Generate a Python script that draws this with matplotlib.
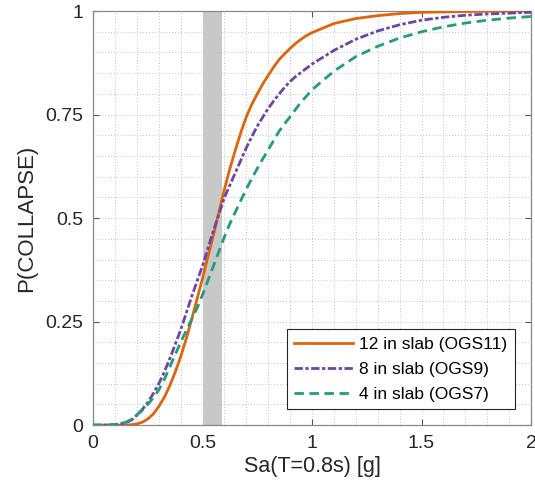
import numpy as np
import matplotlib
matplotlib.use('Agg')
import matplotlib.pyplot as plt
from matplotlib.ticker import MultipleLocator

plt.rcParams['font.family'] = ['Liberation Sans', 'DejaVu Sans']

sa = [0.0, 0.05, 0.1,
      0.15, 0.175, 0.2, 0.225, 0.25, 0.275, 0.3, 0.325, 0.35, 0.375,
      0.4, 0.425, 0.45, 0.475, 0.5, 0.525, 0.55, 0.575, 0.6, 0.625,
      0.65, 0.675, 0.7, 0.725, 0.75, 0.775, 0.8, 0.825, 0.85, 0.875,
      0.9, 0.925, 0.95, 0.975, 1.0,
      1.1, 1.2, 1.3, 1.4, 1.5, 1.6, 1.7, 1.8, 1.9, 2.0]

# P(collapse) for each slab thickness
p_ogs11 = [0.0, 0.0, 0.0,
           0.0, 0.001, 0.003, 0.007, 0.015, 0.027, 0.045, 0.067, 0.095, 0.128,
           0.165, 0.208, 0.255, 0.305, 0.355, 0.408, 0.46, 0.515, 0.57, 0.62,
           0.665, 0.707, 0.745, 0.775, 0.80, 0.824, 0.845, 0.865, 0.883, 0.897,
           0.91, 0.922, 0.932, 0.941, 0.948,
           0.97, 0.982, 0.989, 0.994, 0.997, 0.998, 0.999, 0.9995, 1.0, 1.0]
p_ogs9 = [0.0, 0.0, 0.001,
          0.006, 0.012, 0.024, 0.038, 0.055, 0.076, 0.10, 0.128, 0.16, 0.195,
          0.23, 0.27, 0.31, 0.348, 0.385, 0.428, 0.47, 0.51, 0.55, 0.58,
          0.61, 0.64, 0.67, 0.697, 0.722, 0.744, 0.765, 0.783, 0.80, 0.816,
          0.83, 0.842, 0.852, 0.862, 0.872,
          0.905, 0.932, 0.952, 0.967, 0.978, 0.985, 0.99, 0.993, 0.995, 0.997]
p_ogs7 = [0.0, 0.0, 0.001,
          0.007, 0.014, 0.025, 0.036, 0.05, 0.066, 0.085, 0.11, 0.14, 0.17,
          0.2, 0.228, 0.255, 0.283, 0.315, 0.35, 0.385, 0.42, 0.455, 0.487,
          0.515, 0.543, 0.57, 0.596, 0.62, 0.643, 0.665, 0.688, 0.71, 0.728,
          0.745, 0.763, 0.78, 0.795, 0.81,
          0.855, 0.89, 0.915, 0.935, 0.95, 0.962, 0.971, 0.978, 0.983, 0.987]

labels = ['12 in slab (OGS11)', '8 in slab (OGS9)', '4 in slab (OGS7)']
band = [0.5, 0.59]

fig = plt.figure(figsize=[5.35, 4.82], dpi=100)
ax = fig.add_axes([0.174, 0.118, 0.8185, 0.859])

ax.axvspan(band[0], band[1], color='#c8c8c8', lw=0, zorder=1)

ax.plot(sa, p_ogs11, '-', color='#e0640a', lw=2.0, label=labels[0], zorder=3)
ax.plot(sa, p_ogs9, color='#6a46a8', lw=2.0, linestyle=(0, (3.0, 0.9, 1.2, 0.9)),
        label=labels[1], zorder=3)
ax.plot(sa, p_ogs7, color='#1f9e78', lw=2.0, linestyle=(0, (3.4, 2.0)),
        label=labels[2], zorder=3)

ax.set_xlim(0, 2)
ax.set_ylim(0, 1)
ax.set_xticks([0, 0.5, 1, 1.5, 2])
ax.set_xticklabels(['0', '0.5', '1', '1.5', '2'])
ax.set_yticks([0, 0.25, 0.5, 0.75, 1])
ax.set_yticklabels(['0', '0.25', '0.5', '0.75', '1'])
ax.xaxis.set_minor_locator(MultipleLocator(0.1))
ax.yaxis.set_minor_locator(MultipleLocator(0.05))

ax.grid(which='both', linestyle=(0, (1, 2.5)), color='#b0b0b0', lw=0.6, zorder=0)
ax.set_axisbelow(True)
ax.tick_params(which='major', direction='in', length=4, width=0.8, color='#555555',
               top=True, right=True, labelsize=14, labelcolor='#262626', pad=7)
ax.tick_params(which='minor', length=0, top=True, right=True)
for s in ax.spines.values():
    s.set_color('#888888')
    s.set_linewidth(0.9)

ax.set_xlabel('Sa(T=0.8s) [g]', fontsize=15.5, color='#262626', labelpad=3)
ax.set_ylabel('P(COLLAPSE)', fontsize=16, color='#262626', labelpad=6)

leg = ax.legend(loc='lower right', fontsize=12.5, handlelength=3.4, handletextpad=0.35,
                fancybox=False, framealpha=1, edgecolor='#262626',
                borderaxespad=0.9, labelspacing=0.55, borderpad=0.45)
leg.get_frame().set_linewidth(0.8)

fig.savefig('out.png', dpi=100)
